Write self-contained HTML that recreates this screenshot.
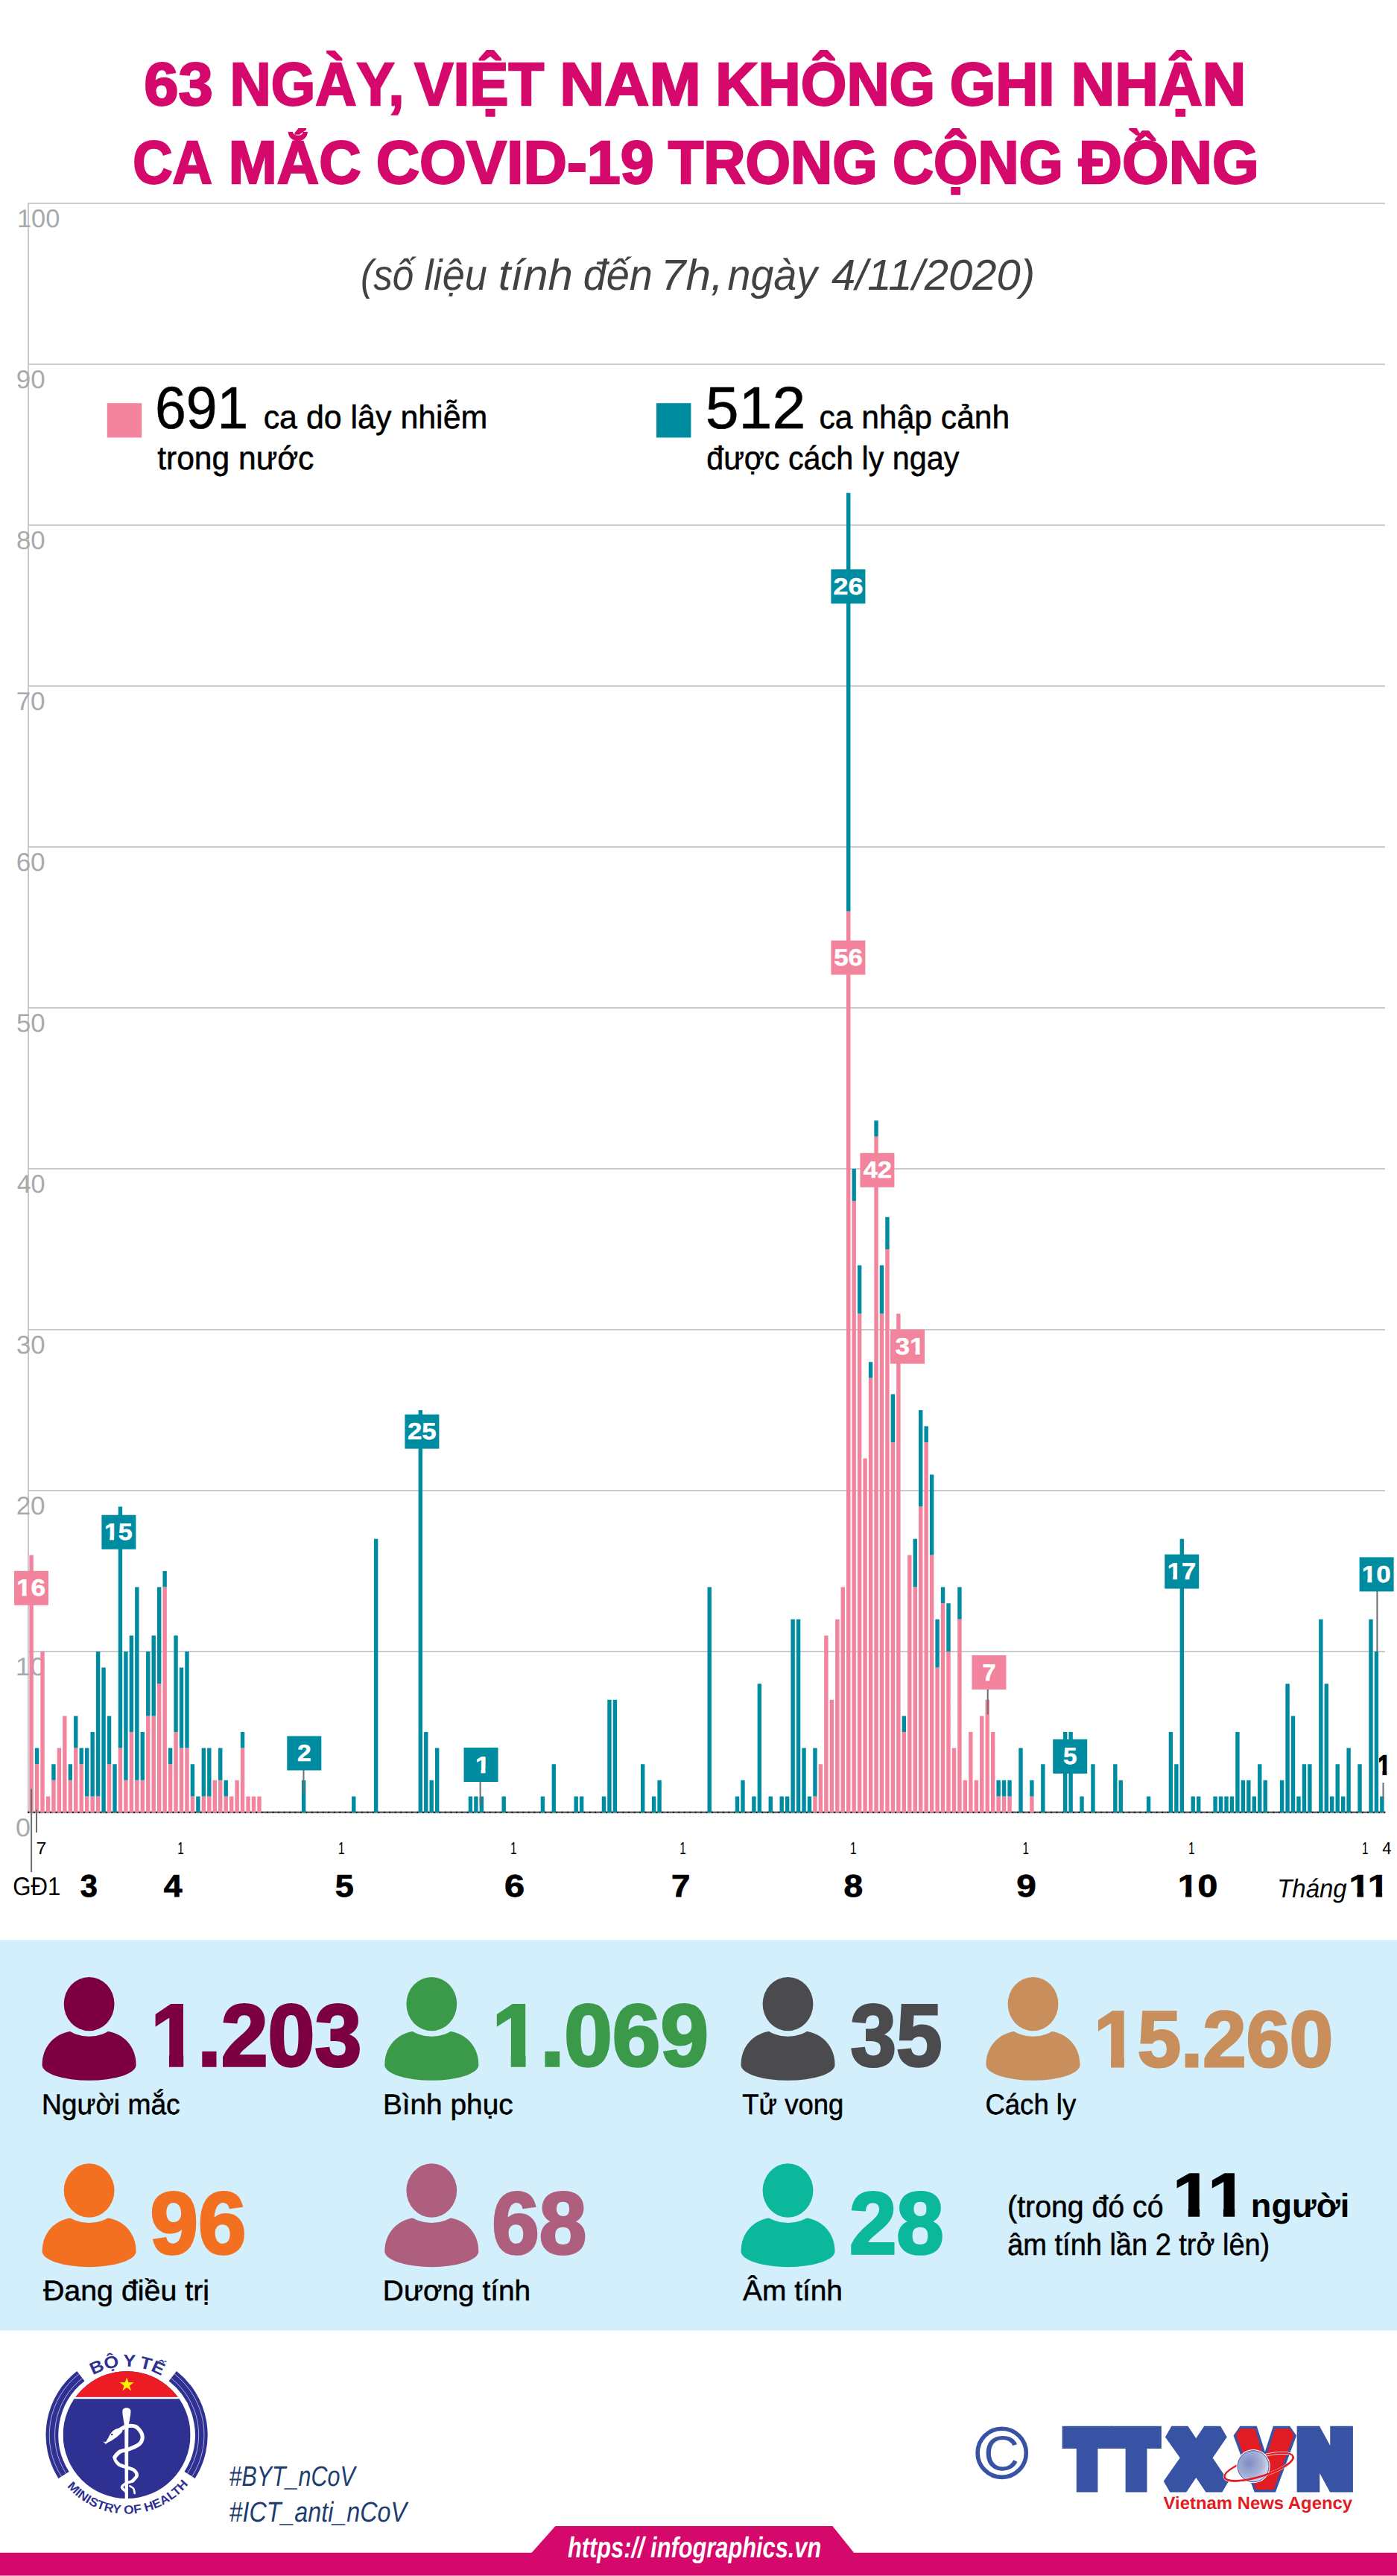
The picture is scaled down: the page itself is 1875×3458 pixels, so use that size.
<!DOCTYPE html>
<html lang="vi"><head><meta charset="utf-8"><title>63 ngày, Việt Nam không ghi nhận ca mắc COVID-19 trong cộng đồng</title>
<style>
html,body{margin:0;padding:0;background:#fff}
body{width:1875px;height:3458px;overflow:hidden}
svg{display:block;font-family:"Liberation Sans",sans-serif;text-rendering:geometricPrecision}
</style></head><body>
<svg width="1875" height="3458" viewBox="0 0 1875 3458">
<rect x="38.0" y="2216.10" width="1821.0" height="1.8" fill="#c4c5c8"/>
<rect x="38.0" y="2000.10" width="1821.0" height="1.8" fill="#c4c5c8"/>
<rect x="38.0" y="1784.10" width="1821.0" height="1.8" fill="#c4c5c8"/>
<rect x="38.0" y="1568.10" width="1821.0" height="1.8" fill="#c4c5c8"/>
<rect x="38.0" y="1352.10" width="1821.0" height="1.8" fill="#c4c5c8"/>
<rect x="38.0" y="1136.10" width="1821.0" height="1.8" fill="#c4c5c8"/>
<rect x="38.0" y="920.10" width="1821.0" height="1.8" fill="#c4c5c8"/>
<rect x="38.0" y="704.10" width="1821.0" height="1.8" fill="#c4c5c8"/>
<rect x="38.0" y="488.10" width="1821.0" height="1.8" fill="#c4c5c8"/>
<rect x="38.0" y="272.10" width="1821.0" height="1.8" fill="#c4c5c8"/>
<rect x="37.1" y="272.10" width="1.8" height="2160.90" fill="#c4c5c8"/>
<text transform="translate(21.06,2465.00) scale(1.0502,1)" font-size="34.3" fill="#a7a9ac">0</text>
<text transform="translate(20.71,2249.00) scale(1.0463,1)" font-size="34.3" fill="#a7a9ac">10</text>
<text transform="translate(21.65,2033.00) scale(1.0208,1)" font-size="34.3" fill="#a7a9ac">20</text>
<text transform="translate(22.10,1817.00) scale(1.0084,1)" font-size="34.3" fill="#a7a9ac">30</text>
<text transform="translate(22.63,1601.00) scale(0.9940,1)" font-size="34.3" fill="#a7a9ac">40</text>
<text transform="translate(22.01,1385.00) scale(1.0109,1)" font-size="34.3" fill="#a7a9ac">50</text>
<text transform="translate(21.65,1169.00) scale(1.0208,1)" font-size="34.3" fill="#a7a9ac">60</text>
<text transform="translate(21.65,953.00) scale(1.0208,1)" font-size="34.3" fill="#a7a9ac">70</text>
<text transform="translate(21.92,737.00) scale(1.0133,1)" font-size="34.3" fill="#a7a9ac">80</text>
<text transform="translate(21.74,521.00) scale(1.0183,1)" font-size="34.3" fill="#a7a9ac">90</text>
<text transform="translate(22.92,305.00) scale(1.0031,1)" font-size="34.3" fill="#a7a9ac">100</text>
<rect x="37.0" y="2432.9" width="1822.0" height="1.3" fill="#8f9092"/>
<rect x="37.0" y="2431.8" width="1822.0" height="1.15" fill="#1a1718"/>
<path d="M38.37 2431.8v2.3M45.83 2431.8v2.3M53.29 2431.8v2.3M60.75 2431.8v2.3M68.21 2431.8v2.3M75.67 2431.8v2.3M83.13 2431.8v2.3M90.59 2431.8v2.3M98.05 2431.8v2.3M105.51 2431.8v2.3M112.97 2431.8v2.3M120.43 2431.8v2.3M127.89 2431.8v2.3M135.35 2431.8v2.3M142.81 2431.8v2.3M150.27 2431.8v2.3M157.73 2431.8v2.3M165.19 2431.8v2.3M172.65 2431.8v2.3M180.11 2431.8v2.3M187.57 2431.8v2.3M195.03 2431.8v2.3M202.49 2431.8v2.3M209.95 2431.8v2.3M217.41 2431.8v2.3M224.87 2431.8v2.3M232.33 2431.8v2.3M239.79 2431.8v2.3M247.25 2431.8v2.3M254.71 2431.8v2.3M262.17 2431.8v2.3M269.63 2431.8v2.3M277.09 2431.8v2.3M284.55 2431.8v2.3M292.01 2431.8v2.3M299.47 2431.8v2.3M306.93 2431.8v2.3M314.39 2431.8v2.3M321.85 2431.8v2.3M329.31 2431.8v2.3M336.77 2431.8v2.3M344.23 2431.8v2.3M351.69 2431.8v2.3M359.15 2431.8v2.3M366.61 2431.8v2.3M374.07 2431.8v2.3M381.53 2431.8v2.3M388.99 2431.8v2.3M396.45 2431.8v2.3M403.91 2431.8v2.3M411.37 2431.8v2.3M418.83 2431.8v2.3M426.29 2431.8v2.3M433.75 2431.8v2.3M441.21 2431.8v2.3M448.67 2431.8v2.3M456.13 2431.8v2.3M463.59 2431.8v2.3M471.05 2431.8v2.3M478.51 2431.8v2.3M485.97 2431.8v2.3M493.43 2431.8v2.3M500.89 2431.8v2.3M508.35 2431.8v2.3M515.81 2431.8v2.3M523.27 2431.8v2.3M530.73 2431.8v2.3M538.19 2431.8v2.3M545.65 2431.8v2.3M553.11 2431.8v2.3M560.57 2431.8v2.3M568.03 2431.8v2.3M575.49 2431.8v2.3M582.95 2431.8v2.3M590.41 2431.8v2.3M597.87 2431.8v2.3M605.33 2431.8v2.3M612.79 2431.8v2.3M620.25 2431.8v2.3M627.71 2431.8v2.3M635.17 2431.8v2.3M642.63 2431.8v2.3M650.09 2431.8v2.3M657.55 2431.8v2.3M665.01 2431.8v2.3M672.47 2431.8v2.3M679.93 2431.8v2.3M687.39 2431.8v2.3M694.85 2431.8v2.3M702.31 2431.8v2.3M709.77 2431.8v2.3M717.23 2431.8v2.3M724.69 2431.8v2.3M732.15 2431.8v2.3M739.61 2431.8v2.3M747.07 2431.8v2.3M754.53 2431.8v2.3M761.99 2431.8v2.3M769.45 2431.8v2.3M776.91 2431.8v2.3M784.37 2431.8v2.3M791.83 2431.8v2.3M799.29 2431.8v2.3M806.75 2431.8v2.3M814.21 2431.8v2.3M821.67 2431.8v2.3M829.13 2431.8v2.3M836.59 2431.8v2.3M844.05 2431.8v2.3M851.51 2431.8v2.3M858.97 2431.8v2.3M866.43 2431.8v2.3M873.89 2431.8v2.3M881.35 2431.8v2.3M888.81 2431.8v2.3M896.27 2431.8v2.3M903.73 2431.8v2.3M911.19 2431.8v2.3M918.65 2431.8v2.3M926.11 2431.8v2.3M933.57 2431.8v2.3M941.03 2431.8v2.3M948.49 2431.8v2.3M955.95 2431.8v2.3M963.41 2431.8v2.3M970.87 2431.8v2.3M978.33 2431.8v2.3M985.79 2431.8v2.3M993.25 2431.8v2.3M1000.71 2431.8v2.3M1008.17 2431.8v2.3M1015.63 2431.8v2.3M1023.09 2431.8v2.3M1030.55 2431.8v2.3M1038.01 2431.8v2.3M1045.47 2431.8v2.3M1052.93 2431.8v2.3M1060.39 2431.8v2.3M1067.85 2431.8v2.3M1075.31 2431.8v2.3M1082.77 2431.8v2.3M1090.23 2431.8v2.3M1097.69 2431.8v2.3M1105.15 2431.8v2.3M1112.61 2431.8v2.3M1120.07 2431.8v2.3M1127.53 2431.8v2.3M1134.99 2431.8v2.3M1142.45 2431.8v2.3M1149.91 2431.8v2.3M1157.37 2431.8v2.3M1164.83 2431.8v2.3M1172.29 2431.8v2.3M1179.75 2431.8v2.3M1187.21 2431.8v2.3M1194.67 2431.8v2.3M1202.13 2431.8v2.3M1209.59 2431.8v2.3M1217.05 2431.8v2.3M1224.51 2431.8v2.3M1231.97 2431.8v2.3M1239.43 2431.8v2.3M1246.89 2431.8v2.3M1254.35 2431.8v2.3M1261.81 2431.8v2.3M1269.27 2431.8v2.3M1276.73 2431.8v2.3M1284.19 2431.8v2.3M1291.65 2431.8v2.3M1299.11 2431.8v2.3M1306.57 2431.8v2.3M1314.03 2431.8v2.3M1321.49 2431.8v2.3M1328.95 2431.8v2.3M1336.41 2431.8v2.3M1343.87 2431.8v2.3M1351.33 2431.8v2.3M1358.79 2431.8v2.3M1366.25 2431.8v2.3M1373.71 2431.8v2.3M1381.17 2431.8v2.3M1388.63 2431.8v2.3M1396.09 2431.8v2.3M1403.55 2431.8v2.3M1411.01 2431.8v2.3M1418.47 2431.8v2.3M1425.93 2431.8v2.3M1433.39 2431.8v2.3M1440.85 2431.8v2.3M1448.31 2431.8v2.3M1455.77 2431.8v2.3M1463.23 2431.8v2.3M1470.69 2431.8v2.3M1478.15 2431.8v2.3M1485.61 2431.8v2.3M1493.07 2431.8v2.3M1500.53 2431.8v2.3M1507.99 2431.8v2.3M1515.45 2431.8v2.3M1522.91 2431.8v2.3M1530.37 2431.8v2.3M1537.83 2431.8v2.3M1545.29 2431.8v2.3M1552.75 2431.8v2.3M1560.21 2431.8v2.3M1567.67 2431.8v2.3M1575.13 2431.8v2.3M1582.59 2431.8v2.3M1590.05 2431.8v2.3M1597.51 2431.8v2.3M1604.97 2431.8v2.3M1612.43 2431.8v2.3M1619.89 2431.8v2.3M1627.35 2431.8v2.3M1634.81 2431.8v2.3M1642.27 2431.8v2.3M1649.73 2431.8v2.3M1657.19 2431.8v2.3M1664.65 2431.8v2.3M1672.11 2431.8v2.3M1679.57 2431.8v2.3M1687.03 2431.8v2.3M1694.49 2431.8v2.3M1701.95 2431.8v2.3M1709.41 2431.8v2.3M1716.87 2431.8v2.3M1724.33 2431.8v2.3M1731.79 2431.8v2.3M1739.25 2431.8v2.3M1746.71 2431.8v2.3M1754.17 2431.8v2.3M1761.63 2431.8v2.3M1769.09 2431.8v2.3M1776.55 2431.8v2.3M1784.01 2431.8v2.3M1791.47 2431.8v2.3M1798.93 2431.8v2.3M1806.39 2431.8v2.3M1813.85 2431.8v2.3M1821.31 2431.8v2.3M1828.77 2431.8v2.3M1836.23 2431.8v2.3M1843.69 2431.8v2.3M1851.15 2431.8v2.3M1858.61 2431.8v2.3" stroke="#111" stroke-width="1.5" fill="none"/>
<path d="M39.40 2433.1V2087.4h5.4V2433.1zM46.86 2433.1V2368.2h5.4V2433.1zM54.32 2433.1V2217.0h5.4V2433.1zM61.78 2433.1V2411.4h5.4V2433.1zM69.24 2433.1V2389.8h5.4V2433.1zM76.70 2433.1V2346.6h5.4V2433.1zM84.16 2433.1V2303.4h5.4V2433.1zM91.62 2433.1V2389.8h5.4V2433.1zM99.08 2433.1V2346.6h5.4V2433.1zM106.54 2433.1V2368.2h5.4V2433.1zM114.00 2433.1V2411.4h5.4V2433.1zM121.46 2433.1V2411.4h5.4V2433.1zM128.92 2433.1V2411.4h5.4V2433.1zM143.84 2433.1V2368.2h5.4V2433.1zM158.76 2433.1V2346.6h5.4V2433.1zM166.22 2433.1V2389.8h5.4V2433.1zM173.68 2433.1V2325.0h5.4V2433.1zM181.14 2433.1V2389.8h5.4V2433.1zM188.60 2433.1V2389.8h5.4V2433.1zM196.06 2433.1V2303.4h5.4V2433.1zM203.52 2433.1V2303.4h5.4V2433.1zM210.98 2433.1V2260.2h5.4V2433.1zM218.44 2433.1V2130.6h5.4V2433.1zM225.90 2433.1V2368.2h5.4V2433.1zM233.36 2433.1V2325.0h5.4V2433.1zM240.82 2433.1V2346.6h5.4V2433.1zM248.28 2433.1V2346.6h5.4V2433.1zM255.74 2433.1V2411.4h5.4V2433.1zM270.66 2433.1V2411.4h5.4V2433.1zM278.12 2433.1V2411.4h5.4V2433.1zM285.58 2433.1V2389.8h5.4V2433.1zM293.04 2433.1V2389.8h5.4V2433.1zM300.50 2433.1V2411.4h5.4V2433.1zM307.96 2433.1V2411.4h5.4V2433.1zM315.42 2433.1V2389.8h5.4V2433.1zM322.88 2433.1V2346.6h5.4V2433.1zM330.34 2433.1V2411.4h5.4V2433.1zM337.80 2433.1V2411.4h5.4V2433.1zM345.26 2433.1V2411.4h5.4V2433.1zM1091.26 2433.1V2411.4h5.4V2433.1zM1098.72 2433.1V2368.2h5.4V2433.1zM1106.18 2433.1V2195.4h5.4V2433.1zM1113.64 2433.1V2281.8h5.4V2433.1zM1121.10 2433.1V2173.8h5.4V2433.1zM1128.56 2433.1V2130.6h5.4V2433.1zM1136.02 2433.1V1223.4h5.4V2433.1zM1143.48 2433.1V1612.2h5.4V2433.1zM1150.94 2433.1V1763.4h5.4V2433.1zM1158.40 2433.1V1957.8h5.4V2433.1zM1165.86 2433.1V1849.8h5.4V2433.1zM1173.32 2433.1V1525.8h5.4V2433.1zM1180.78 2433.1V1763.4h5.4V2433.1zM1188.24 2433.1V1677.0h5.4V2433.1zM1195.70 2433.1V1936.2h5.4V2433.1zM1203.16 2433.1V1763.4h5.4V2433.1zM1210.62 2433.1V2325.0h5.4V2433.1zM1218.08 2433.1V2087.4h5.4V2433.1zM1225.54 2433.1V2130.6h5.4V2433.1zM1233.00 2433.1V2022.6h5.4V2433.1zM1240.46 2433.1V1936.2h5.4V2433.1zM1247.92 2433.1V2087.4h5.4V2433.1zM1255.38 2433.1V2238.6h5.4V2433.1zM1262.84 2433.1V2152.2h5.4V2433.1zM1270.30 2433.1V2217.0h5.4V2433.1zM1277.76 2433.1V2346.6h5.4V2433.1zM1285.22 2433.1V2173.8h5.4V2433.1zM1292.68 2433.1V2389.8h5.4V2433.1zM1300.14 2433.1V2325.0h5.4V2433.1zM1307.60 2433.1V2389.8h5.4V2433.1zM1315.06 2433.1V2303.4h5.4V2433.1zM1322.52 2433.1V2281.8h5.4V2433.1zM1329.98 2433.1V2325.0h5.4V2433.1zM1337.44 2433.1V2411.4h5.4V2433.1zM1344.90 2433.1V2411.4h5.4V2433.1zM1352.36 2433.1V2411.4h5.4V2433.1zM1382.20 2433.1V2411.4h5.4V2433.1z" fill="#f2849d"/>
<path d="M46.86 2368.2V2346.6h5.4V2368.2zM69.24 2389.8V2368.2h5.4V2389.8zM91.62 2389.8V2368.2h5.4V2389.8zM99.08 2346.6V2303.4h5.4V2346.6zM106.54 2368.2V2346.6h5.4V2368.2zM114.00 2411.4V2346.6h5.4V2411.4zM121.46 2411.4V2325.0h5.4V2411.4zM128.92 2411.4V2217.0h5.4V2411.4zM136.38 2433.1V2238.6h5.4V2433.1zM143.84 2368.2V2303.4h5.4V2368.2zM151.30 2433.1V2368.2h5.4V2433.1zM158.76 2346.6V2022.6h5.4V2346.6zM166.22 2389.8V2217.0h5.4V2389.8zM173.68 2325.0V2195.4h5.4V2325.0zM181.14 2389.8V2130.6h5.4V2389.8zM188.60 2389.8V2325.0h5.4V2389.8zM196.06 2303.4V2217.0h5.4V2303.4zM203.52 2303.4V2195.4h5.4V2303.4zM210.98 2260.2V2130.6h5.4V2260.2zM218.44 2130.6V2109.0h5.4V2130.6zM225.90 2368.2V2346.6h5.4V2368.2zM233.36 2325.0V2195.4h5.4V2325.0zM240.82 2346.6V2238.6h5.4V2346.6zM248.28 2346.6V2217.0h5.4V2346.6zM255.74 2411.4V2368.2h5.4V2411.4zM263.20 2433.1V2411.4h5.4V2433.1zM270.66 2411.4V2346.6h5.4V2411.4zM278.12 2411.4V2346.6h5.4V2411.4zM293.04 2389.8V2346.6h5.4V2389.8zM300.50 2411.4V2389.8h5.4V2411.4zM322.88 2346.6V2325.0h5.4V2346.6zM404.94 2433.1V2389.8h5.4V2433.1zM472.08 2433.1V2411.4h5.4V2433.1zM501.92 2433.1V2065.8h5.4V2433.1zM561.60 2433.1V1893.0h5.4V2433.1zM569.06 2433.1V2325.0h5.4V2433.1zM576.52 2433.1V2389.8h5.4V2433.1zM583.98 2433.1V2346.6h5.4V2433.1zM628.74 2433.1V2411.4h5.4V2433.1zM636.20 2433.1V2411.4h5.4V2433.1zM643.66 2433.1V2411.4h5.4V2433.1zM673.50 2433.1V2411.4h5.4V2433.1zM725.72 2433.1V2411.4h5.4V2433.1zM740.64 2433.1V2368.2h5.4V2433.1zM770.48 2433.1V2411.4h5.4V2433.1zM777.94 2433.1V2411.4h5.4V2433.1zM807.78 2433.1V2411.4h5.4V2433.1zM815.24 2433.1V2281.8h5.4V2433.1zM822.70 2433.1V2281.8h5.4V2433.1zM860.00 2433.1V2368.2h5.4V2433.1zM874.92 2433.1V2411.4h5.4V2433.1zM882.38 2433.1V2389.8h5.4V2433.1zM949.52 2433.1V2130.6h5.4V2433.1zM986.82 2433.1V2411.4h5.4V2433.1zM994.28 2433.1V2389.8h5.4V2433.1zM1009.20 2433.1V2411.4h5.4V2433.1zM1016.66 2433.1V2260.2h5.4V2433.1zM1031.58 2433.1V2411.4h5.4V2433.1zM1046.50 2433.1V2411.4h5.4V2433.1zM1053.96 2433.1V2411.4h5.4V2433.1zM1061.42 2433.1V2173.8h5.4V2433.1zM1068.88 2433.1V2173.8h5.4V2433.1zM1076.34 2433.1V2346.6h5.4V2433.1zM1083.80 2433.1V2411.4h5.4V2433.1zM1091.26 2411.4V2346.6h5.4V2411.4zM1136.02 1223.4V661.8h5.4V1223.4zM1143.48 1612.2V1569.0h5.4V1612.2zM1150.94 1763.4V1698.6h5.4V1763.4zM1165.86 1849.8V1828.2h5.4V1849.8zM1173.32 1525.8V1504.2h5.4V1525.8zM1180.78 1763.4V1698.6h5.4V1763.4zM1188.24 1677.0V1633.8h5.4V1677.0zM1195.70 1936.2V1871.4h5.4V1936.2zM1210.62 2325.0V2303.4h5.4V2325.0zM1225.54 2130.6V2065.8h5.4V2130.6zM1233.00 2022.6V1893.0h5.4V2022.6zM1240.46 1936.2V1914.6h5.4V1936.2zM1247.92 2087.4V1979.4h5.4V2087.4zM1255.38 2238.6V2173.8h5.4V2238.6zM1262.84 2152.2V2130.6h5.4V2152.2zM1270.30 2217.0V2152.2h5.4V2217.0zM1285.22 2173.8V2130.6h5.4V2173.8zM1337.44 2411.4V2389.8h5.4V2411.4zM1344.90 2411.4V2389.8h5.4V2411.4zM1352.36 2411.4V2389.8h5.4V2411.4zM1367.28 2433.1V2346.6h5.4V2433.1zM1382.20 2411.4V2389.8h5.4V2411.4zM1397.12 2433.1V2368.2h5.4V2433.1zM1426.96 2433.1V2325.0h5.4V2433.1zM1434.42 2433.1V2325.0h5.4V2433.1zM1449.34 2433.1V2411.4h5.4V2433.1zM1464.26 2433.1V2368.2h5.4V2433.1zM1494.10 2433.1V2368.2h5.4V2433.1zM1501.56 2433.1V2389.8h5.4V2433.1zM1538.86 2433.1V2411.4h5.4V2433.1zM1568.70 2433.1V2325.0h5.4V2433.1zM1576.16 2433.1V2368.2h5.4V2433.1zM1583.62 2433.1V2065.8h5.4V2433.1zM1598.54 2433.1V2411.4h5.4V2433.1zM1606.00 2433.1V2411.4h5.4V2433.1zM1628.38 2433.1V2411.4h5.4V2433.1zM1635.84 2433.1V2411.4h5.4V2433.1zM1643.30 2433.1V2411.4h5.4V2433.1zM1650.76 2433.1V2411.4h5.4V2433.1zM1658.22 2433.1V2325.0h5.4V2433.1zM1665.68 2433.1V2389.8h5.4V2433.1zM1673.14 2433.1V2389.8h5.4V2433.1zM1680.60 2433.1V2411.4h5.4V2433.1zM1688.06 2433.1V2368.2h5.4V2433.1zM1695.52 2433.1V2389.8h5.4V2433.1zM1717.90 2433.1V2389.8h5.4V2433.1zM1725.36 2433.1V2260.2h5.4V2433.1zM1732.82 2433.1V2303.4h5.4V2433.1zM1740.28 2433.1V2411.4h5.4V2433.1zM1747.74 2433.1V2368.2h5.4V2433.1zM1755.20 2433.1V2368.2h5.4V2433.1zM1770.12 2433.1V2173.8h5.4V2433.1zM1777.58 2433.1V2260.2h5.4V2433.1zM1785.04 2433.1V2411.4h5.4V2433.1zM1792.50 2433.1V2368.2h5.4V2433.1zM1799.96 2433.1V2411.4h5.4V2433.1zM1807.42 2433.1V2346.6h5.4V2433.1zM1822.34 2433.1V2368.2h5.4V2433.1zM1837.26 2433.1V2173.8h5.4V2433.1zM1844.72 2433.1V2217.0h5.4V2433.1zM1852.18 2433.1V2411.4h5.4V2433.1z" fill="#008ca0"/>
<rect x="41.10" y="2401.50" width="2.0" height="111.60" fill="#6d6e71"/>
<rect x="48.00" y="2429.40" width="2.0" height="30.50" fill="#6d6e71"/>
<rect x="406.50" y="2376.00" width="2.0" height="30.60" fill="#6d6e71"/>
<rect x="643.60" y="2391.00" width="2.0" height="31.00" fill="#6d6e71"/>
<rect x="1324.70" y="2267.00" width="2.0" height="34.50" fill="#6d6e71"/>
<rect x="1847.40" y="2135.00" width="2.0" height="82.00" fill="#6d6e71"/>
<rect x="1855.50" y="2393.00" width="2.0" height="22.20" fill="#6d6e71"/>
<text transform="translate(1849.71,2382.10) scale(0.7745,1)" font-size="37" font-weight="bold" stroke="#000" stroke-width="1.8" stroke-linejoin="miter" fill="#000">1</text>
<rect x="1850.19" y="2375.63" width="5.27" height="9.27" fill="#fff"/>
<rect x="1861.26" y="2375.63" width="4.91" height="9.27" fill="#fff"/>
<rect x="19.00" y="2108.80" width="46" height="46" fill="#f2849d"/>
<text transform="translate(21.92,2142.35) scale(1.1206,1)" font-size="31.5" font-weight="bold" stroke="#fff" stroke-width="0.5" stroke-linejoin="miter" fill="#fff">16</text>
<rect x="22.97" y="2137.09" width="6.58" height="7.41" fill="#f2849d"/>
<rect x="35.62" y="2137.09" width="6.13" height="7.41" fill="#f2849d"/>
<rect x="136.40" y="2033.70" width="46" height="46" fill="#008ca0"/>
<text transform="translate(139.89,2067.25) scale(1.0818,1)" font-size="31.5" font-weight="bold" stroke="#fff" stroke-width="0.5" stroke-linejoin="miter" fill="#fff">15</text>
<rect x="140.90" y="2061.99" width="6.35" height="7.41" fill="#008ca0"/>
<rect x="153.11" y="2061.99" width="5.91" height="7.41" fill="#008ca0"/>
<rect x="385.30" y="2330.50" width="46" height="46" fill="#008ca0"/>
<text transform="translate(398.99,2364.05) scale(1.0701,1)" font-size="31.5" font-weight="bold" stroke="#fff" stroke-width="0.5" stroke-linejoin="miter" fill="#fff">2</text>
<rect x="543.40" y="1898.70" width="46" height="46" fill="#008ca0"/>
<text transform="translate(546.96,1932.25) scale(1.1046,1)" font-size="31.5" font-weight="bold" stroke="#fff" stroke-width="0.5" stroke-linejoin="miter" fill="#fff">25</text>
<rect x="622.50" y="2346.00" width="46" height="46" fill="#008ca0"/>
<text transform="translate(637.88,2379.55) scale(1.1198,1)" font-size="31.5" font-weight="bold" stroke="#fff" stroke-width="0.5" stroke-linejoin="miter" fill="#fff">1</text>
<rect x="638.92" y="2374.29" width="6.57" height="7.41" fill="#008ca0"/>
<rect x="651.56" y="2374.29" width="6.12" height="7.41" fill="#008ca0"/>
<rect x="1115.40" y="764.30" width="46" height="46" fill="#008ca0"/>
<text transform="translate(1118.53,797.85) scale(1.1365,1)" font-size="31.5" font-weight="bold" stroke="#fff" stroke-width="0.5" stroke-linejoin="miter" fill="#fff">26</text>
<rect x="1115.40" y="1262.50" width="46" height="46" fill="#f2849d"/>
<text transform="translate(1119.18,1296.05) scale(1.1042,1)" font-size="31.5" font-weight="bold" stroke="#fff" stroke-width="0.5" stroke-linejoin="miter" fill="#fff">56</text>
<rect x="1154.40" y="1547.80" width="46" height="46" fill="#f2849d"/>
<text transform="translate(1158.66,1581.35) scale(1.0943,1)" font-size="31.5" font-weight="bold" stroke="#fff" stroke-width="0.5" stroke-linejoin="miter" fill="#fff">42</text>
<rect x="1195.00" y="1784.70" width="46" height="46" fill="#f2849d"/>
<text transform="translate(1201.39,1818.25) scale(1.1133,1)" font-size="31.5" font-weight="bold" stroke="#fff" stroke-width="0.5" stroke-linejoin="miter" fill="#fff">31</text>
<rect x="1221.93" y="1812.99" width="6.53" height="7.41" fill="#f2849d"/>
<rect x="1234.50" y="1812.99" width="6.09" height="7.41" fill="#f2849d"/>
<rect x="1304.40" y="2222.00" width="46" height="46" fill="#f2849d"/>
<text transform="translate(1318.38,2255.55) scale(1.0323,1)" font-size="31.5" font-weight="bold" stroke="#fff" stroke-width="0.5" stroke-linejoin="miter" fill="#fff">7</text>
<rect x="1413.20" y="2334.80" width="46" height="46" fill="#008ca0"/>
<text transform="translate(1426.92,2368.35) scale(1.0574,1)" font-size="31.5" font-weight="bold" stroke="#fff" stroke-width="0.5" stroke-linejoin="miter" fill="#fff">5</text>
<rect x="1563.20" y="2086.60" width="46" height="46" fill="#008ca0"/>
<text transform="translate(1566.83,2120.15) scale(1.0884,1)" font-size="31.5" font-weight="bold" stroke="#fff" stroke-width="0.5" stroke-linejoin="miter" fill="#fff">17</text>
<rect x="1567.85" y="2114.89" width="6.39" height="7.41" fill="#008ca0"/>
<rect x="1580.13" y="2114.89" width="5.95" height="7.41" fill="#008ca0"/>
<rect x="1824.60" y="2090.40" width="46" height="46" fill="#008ca0"/>
<text transform="translate(1827.79,2123.95) scale(1.1106,1)" font-size="31.5" font-weight="bold" stroke="#fff" stroke-width="0.5" stroke-linejoin="miter" fill="#fff">10</text>
<rect x="1828.83" y="2118.69" width="6.52" height="7.41" fill="#008ca0"/>
<rect x="1841.37" y="2118.69" width="6.07" height="7.41" fill="#008ca0"/>
<text transform="translate(48.55,2488.50) scale(1.0707,1)" font-size="23.4" fill="#000">7</text>
<text transform="translate(238.36,2488.50) scale(0.6521,1)" font-size="23.4" fill="#000">1</text>
<text transform="translate(454.06,2488.50) scale(0.6521,1)" font-size="23.4" fill="#000">1</text>
<text transform="translate(684.96,2488.50) scale(0.6521,1)" font-size="23.4" fill="#000">1</text>
<text transform="translate(912.26,2488.50) scale(0.6521,1)" font-size="23.4" fill="#000">1</text>
<text transform="translate(1141.06,2488.50) scale(0.6521,1)" font-size="23.4" fill="#000">1</text>
<text transform="translate(1372.56,2488.50) scale(0.6521,1)" font-size="23.4" fill="#000">1</text>
<text transform="translate(1595.06,2488.50) scale(0.6521,1)" font-size="23.4" fill="#000">1</text>
<text transform="translate(1827.96,2488.50) scale(0.6521,1)" font-size="23.4" fill="#000">1</text>
<text transform="translate(1855.21,2488.50) scale(0.9393,1)" font-size="23.4" fill="#000">4</text>
<text transform="translate(107.86,2545.80) scale(0.9910,1)" font-size="42" font-weight="bold" stroke="#000" stroke-width="0.8" stroke-linejoin="miter" fill="#000">3</text>
<text transform="translate(219.86,2545.80) scale(1.0615,1)" font-size="42" font-weight="bold" stroke="#000" stroke-width="0.8" stroke-linejoin="miter" fill="#000">4</text>
<text transform="translate(449.78,2545.80) scale(1.0694,1)" font-size="42" font-weight="bold" stroke="#000" stroke-width="0.8" stroke-linejoin="miter" fill="#000">5</text>
<text transform="translate(677.04,2545.80) scale(1.1583,1)" font-size="42" font-weight="bold" stroke="#000" stroke-width="0.8" stroke-linejoin="miter" fill="#000">6</text>
<text transform="translate(901.10,2545.80) scale(1.0857,1)" font-size="42" font-weight="bold" stroke="#000" stroke-width="0.8" stroke-linejoin="miter" fill="#000">7</text>
<text transform="translate(1132.44,2545.80) scale(1.0984,1)" font-size="42" font-weight="bold" stroke="#000" stroke-width="0.8" stroke-linejoin="miter" fill="#000">8</text>
<text transform="translate(1364.29,2545.80) scale(1.1337,1)" font-size="42" font-weight="bold" stroke="#000" stroke-width="0.8" stroke-linejoin="miter" fill="#000">9</text>
<text transform="translate(1580.65,2545.80) scale(1.1458,1)" font-size="42" font-weight="bold" stroke="#000" stroke-width="0.8" stroke-linejoin="miter" fill="#000">10</text>
<rect x="1582.31" y="2539.32" width="8.77" height="8.78" fill="#fff"/>
<rect x="1599.29" y="2539.32" width="8.16" height="8.78" fill="#fff"/>
<text transform="translate(1810.54,2545.80) scale(1.1957,1)" font-size="42" font-weight="bold" stroke="#000" stroke-width="0.8" stroke-linejoin="miter" fill="#000">11</text>
<rect x="1812.27" y="2539.32" width="9.16" height="8.78" fill="#fff"/>
<rect x="1829.99" y="2539.32" width="8.52" height="8.78" fill="#fff"/>
<rect x="1837.43" y="2539.32" width="9.16" height="8.78" fill="#fff"/>
<rect x="1855.15" y="2539.32" width="8.52" height="8.78" fill="#fff"/>
<text transform="translate(17.34,2544.30) scale(0.9033,1)" font-size="34.5" fill="#000">GĐ1</text>
<text transform="translate(1714.23,2547.40) scale(0.9414,1)" font-size="35" font-style="italic" fill="#000">Tháng</text>
<text transform="translate(193.31,140.90) scale(1.0236,1)" font-size="81.3" font-weight="bold" stroke="#d4096b" stroke-width="2.4" stroke-linejoin="miter" fill="#d4096b">63</text>
<text transform="translate(308.56,140.90) scale(0.9412,1)" font-size="81.3" font-weight="bold" stroke="#d4096b" stroke-width="2.4" stroke-linejoin="miter" fill="#d4096b">NGÀY,</text>
<text transform="translate(556.37,140.90) scale(0.9617,1)" font-size="81.3" font-weight="bold" stroke="#d4096b" stroke-width="2.4" stroke-linejoin="miter" fill="#d4096b">VIỆT</text>
<text transform="translate(751.31,140.90) scale(1.0227,1)" font-size="81.3" font-weight="bold" stroke="#d4096b" stroke-width="2.4" stroke-linejoin="miter" fill="#d4096b">NAM</text>
<text transform="translate(960.32,140.90) scale(0.9746,1)" font-size="81.3" font-weight="bold" stroke="#d4096b" stroke-width="2.4" stroke-linejoin="miter" fill="#d4096b">KHÔNG</text>
<text transform="translate(1274.70,140.90) scale(0.9742,1)" font-size="81.3" font-weight="bold" stroke="#d4096b" stroke-width="2.4" stroke-linejoin="miter" fill="#d4096b">GHI</text>
<text transform="translate(1437.61,140.90) scale(1.0001,1)" font-size="81.3" font-weight="bold" stroke="#d4096b" stroke-width="2.4" stroke-linejoin="miter" fill="#d4096b">NHẬN</text>
<text transform="translate(178.24,246.40) scale(0.9083,1)" font-size="81.3" font-weight="bold" stroke="#d4096b" stroke-width="2.4" stroke-linejoin="miter" fill="#d4096b">CA</text>
<text transform="translate(306.78,246.40) scale(0.9603,1)" font-size="81.3" font-weight="bold" stroke="#d4096b" stroke-width="2.4" stroke-linejoin="miter" fill="#d4096b">MẮC</text>
<text transform="translate(504.66,246.40) scale(0.9952,1)" font-size="81.3" font-weight="bold" stroke="#d4096b" stroke-width="2.4" stroke-linejoin="miter" fill="#d4096b">COVID-19</text>
<text transform="translate(896.77,246.40) scale(0.9576,1)" font-size="81.3" font-weight="bold" stroke="#d4096b" stroke-width="2.4" stroke-linejoin="miter" fill="#d4096b">TRONG</text>
<text transform="translate(1197.97,246.40) scale(0.9388,1)" font-size="81.3" font-weight="bold" stroke="#d4096b" stroke-width="2.4" stroke-linejoin="miter" fill="#d4096b">CỘNG</text>
<text transform="translate(1447.79,246.40) scale(0.9925,1)" font-size="81.3" font-weight="bold" stroke="#d4096b" stroke-width="2.4" stroke-linejoin="miter" fill="#d4096b">ĐỒNG</text>
<text transform="translate(484.07,389.00) scale(0.8837,1)" font-size="58" font-style="italic" fill="#424244">(số</text>
<text transform="translate(569.59,389.00) scale(0.9335,1)" font-size="58" font-style="italic" fill="#424244">liệu</text>
<text transform="translate(668.80,389.00) scale(1.0361,1)" font-size="58" font-style="italic" fill="#424244">tính</text>
<text transform="translate(782.68,389.00) scale(0.9640,1)" font-size="58" font-style="italic" fill="#424244">đến</text>
<text transform="translate(886.81,389.00) scale(1.0411,1)" font-size="58" font-style="italic" fill="#424244">7h,</text>
<text transform="translate(976.53,389.00) scale(0.9569,1)" font-size="58" font-style="italic" fill="#424244">ngày</text>
<text transform="translate(1115.97,389.00) scale(0.9999,1)" font-size="58" font-style="italic" fill="#424244">4/11/2020)</text>
<rect x="143.8" y="541.2" width="46.4" height="46.2" fill="#f2849d"/>
<rect x="881" y="541.2" width="46.4" height="46.2" fill="#008ca0"/>
<text transform="translate(208.00,574.73) scale(0.9394,1)" font-size="80" stroke="#000" stroke-width="0.55" stroke-linejoin="miter" fill="#000">691</text>
<text transform="translate(353.64,574.73) scale(0.9756,1)" font-size="44" stroke="#000" stroke-width="0.55" stroke-linejoin="miter" fill="#000">ca do lây nhiễm</text>
<text transform="translate(211.13,630.02) scale(0.9674,1)" font-size="44" stroke="#000" stroke-width="0.55" stroke-linejoin="miter" fill="#000">trong nước</text>
<text transform="translate(946.75,574.73) scale(1.0083,1)" font-size="80" stroke="#000" stroke-width="0.55" stroke-linejoin="miter" fill="#000">512</text>
<text transform="translate(1099.46,574.73) scale(0.9679,1)" font-size="44" stroke="#000" stroke-width="0.55" stroke-linejoin="miter" fill="#000">ca nhập cảnh</text>
<text transform="translate(948.20,630.02) scale(0.9380,1)" font-size="44" stroke="#000" stroke-width="0.55" stroke-linejoin="miter" fill="#000">được cách ly ngay</text>
<rect x="0" y="2604.2" width="1875" height="524.3" fill="#d4effc"/>
<path d="M56.6 2771.9C56.6 2745.0 75.6 2730.0 93.6 2727.0L145.6 2727.0C163.6 2730.0 182.6 2745.0 182.6 2771.9A63 20.9 0 0 1 56.6 2771.9z" fill="#7c0040"/>
<ellipse cx="119.6" cy="2690.1" rx="47.5" ry="43.6" fill="#d4effc"/>
<ellipse cx="119.6" cy="2690.1" rx="33.9" ry="36.2" fill="#7c0040"/>
<path d="M516.3 2771.9C516.3 2745.0 535.3 2730.0 553.3 2727.0L605.3 2727.0C623.3 2730.0 642.3 2745.0 642.3 2771.9A63 20.9 0 0 1 516.3 2771.9z" fill="#3a9a4a"/>
<ellipse cx="579.3" cy="2690.1" rx="47.5" ry="43.6" fill="#d4effc"/>
<ellipse cx="579.3" cy="2690.1" rx="33.9" ry="36.2" fill="#3a9a4a"/>
<path d="M994.5 2771.9C994.5 2745.0 1013.5 2730.0 1031.5 2727.0L1083.5 2727.0C1101.5 2730.0 1120.5 2745.0 1120.5 2771.9A63 20.9 0 0 1 994.5 2771.9z" fill="#4b4b4d"/>
<ellipse cx="1057.5" cy="2690.1" rx="47.5" ry="43.6" fill="#d4effc"/>
<ellipse cx="1057.5" cy="2690.1" rx="33.9" ry="36.2" fill="#4b4b4d"/>
<path d="M1323.5 2771.9C1323.5 2745.0 1342.5 2730.0 1360.5 2727.0L1412.5 2727.0C1430.5 2730.0 1449.5 2745.0 1449.5 2771.9A63 20.9 0 0 1 1323.5 2771.9z" fill="#c88f5c"/>
<ellipse cx="1386.5" cy="2690.1" rx="47.5" ry="43.6" fill="#d4effc"/>
<ellipse cx="1386.5" cy="2690.1" rx="33.9" ry="36.2" fill="#c88f5c"/>
<path d="M56.6 3022.3C56.6 2995.4 75.6 2980.4 93.6 2977.4L145.6 2977.4C163.6 2980.4 182.6 2995.4 182.6 3022.3A63 20.9 0 0 1 56.6 3022.3z" fill="#f37021"/>
<ellipse cx="119.6" cy="2940.5" rx="47.5" ry="43.6" fill="#d4effc"/>
<ellipse cx="119.6" cy="2940.5" rx="33.9" ry="36.2" fill="#f37021"/>
<path d="M516.3 3022.3C516.3 2995.4 535.3 2980.4 553.3 2977.4L605.3 2977.4C623.3 2980.4 642.3 2995.4 642.3 3022.3A63 20.9 0 0 1 516.3 3022.3z" fill="#ad5f7d"/>
<ellipse cx="579.3" cy="2940.5" rx="47.5" ry="43.6" fill="#d4effc"/>
<ellipse cx="579.3" cy="2940.5" rx="33.9" ry="36.2" fill="#ad5f7d"/>
<path d="M994.5 3022.3C994.5 2995.4 1013.5 2980.4 1031.5 2977.4L1083.5 2977.4C1101.5 2980.4 1120.5 2995.4 1120.5 3022.3A63 20.9 0 0 1 994.5 3022.3z" fill="#0cb89b"/>
<ellipse cx="1057.5" cy="2940.5" rx="47.5" ry="43.6" fill="#d4effc"/>
<ellipse cx="1057.5" cy="2940.5" rx="33.9" ry="36.2" fill="#0cb89b"/>
<text transform="translate(202.47,2773.30) scale(0.9576,1)" font-size="118" font-weight="bold" stroke="#7c0040" stroke-width="3.4" stroke-linejoin="miter" fill="#7c0040">1.203</text>
<rect x="207.19" y="2757.76" width="19.73" height="19.14" fill="#d4effc"/>
<rect x="246.26" y="2757.76" width="18.30" height="19.14" fill="#d4effc"/>
<text transform="translate(660.62,2773.30) scale(0.9830,1)" font-size="118" font-weight="bold" stroke="#3a9a4a" stroke-width="3.4" stroke-linejoin="miter" fill="#3a9a4a">1.069</text>
<rect x="665.47" y="2757.76" width="20.26" height="19.14" fill="#d4effc"/>
<rect x="705.57" y="2757.76" width="18.78" height="19.14" fill="#d4effc"/>
<text transform="translate(1141.41,2773.30) scale(0.9371,1)" font-size="118" font-weight="bold" stroke="#4b4b4d" stroke-width="3.4" stroke-linejoin="miter" fill="#4b4b4d">35</text>
<text transform="translate(1468.32,2774.10) scale(0.9849,1)" font-size="106.5" font-weight="bold" stroke="#c88f5c" stroke-width="3" stroke-linejoin="miter" fill="#c88f5c">15.260</text>
<rect x="1472.66" y="2759.94" width="18.37" height="17.56" fill="#d4effc"/>
<rect x="1508.97" y="2759.94" width="17.03" height="17.56" fill="#d4effc"/>
<text transform="translate(201.51,3024.80) scale(0.9816,1)" font-size="118" font-weight="bold" stroke="#f37021" stroke-width="3.4" stroke-linejoin="miter" fill="#f37021">96</text>
<text transform="translate(660.26,3024.80) scale(0.9682,1)" font-size="118" font-weight="bold" stroke="#ad5f7d" stroke-width="3.4" stroke-linejoin="miter" fill="#ad5f7d">68</text>
<text transform="translate(1139.95,3024.80) scale(0.9660,1)" font-size="118" font-weight="bold" stroke="#0cb89b" stroke-width="3.4" stroke-linejoin="miter" fill="#0cb89b">28</text>
<text transform="translate(56.00,2837.72) scale(0.9659,1)" font-size="38.5" stroke="#000" stroke-width="0.55" stroke-linejoin="miter" fill="#000">Người mắc</text>
<text transform="translate(513.88,2837.72) scale(1.0079,1)" font-size="38.5" stroke="#000" stroke-width="0.55" stroke-linejoin="miter" fill="#000">Bình phục</text>
<text transform="translate(996.34,2837.72) scale(0.9475,1)" font-size="38.5" stroke="#000" stroke-width="0.55" stroke-linejoin="miter" fill="#000">Tử vong</text>
<text transform="translate(1322.43,2837.72) scale(0.9486,1)" font-size="38.5" stroke="#000" stroke-width="0.55" stroke-linejoin="miter" fill="#000">Cách ly</text>
<text transform="translate(57.89,3087.72) scale(1.0220,1)" font-size="38.5" stroke="#000" stroke-width="0.55" stroke-linejoin="miter" fill="#000">Đang điều trị</text>
<text transform="translate(513.87,3087.72) scale(1.0088,1)" font-size="38.5" stroke="#000" stroke-width="0.55" stroke-linejoin="miter" fill="#000">Dương tính</text>
<text transform="translate(997.08,3087.72) scale(1.0093,1)" font-size="38.5" stroke="#000" stroke-width="0.55" stroke-linejoin="miter" fill="#000">Âm tính</text>
<text transform="translate(1352.11,2975.62) scale(0.9568,1)" font-size="41" stroke="#000" stroke-width="0.55" stroke-linejoin="miter" fill="#000">(trong đó có</text>
<text transform="translate(1574.07,2975.15) scale(1.1327,1)" font-size="83" font-weight="bold" stroke="#000" stroke-width="1.5" stroke-linejoin="miter" fill="#000">11</text>
<rect x="1578.24" y="2964.13" width="16.59" height="13.67" fill="#d4effc"/>
<rect x="1610.11" y="2964.13" width="15.39" height="13.67" fill="#d4effc"/>
<rect x="1625.35" y="2964.13" width="16.59" height="13.67" fill="#d4effc"/>
<rect x="1657.21" y="2964.13" width="15.39" height="13.67" fill="#d4effc"/>
<text transform="translate(1678.87,2975.90) scale(1.0136,1)" font-size="44.5" font-weight="bold" fill="#000">người</text>
<text transform="translate(1352.24,3026.82) scale(0.9261,1)" font-size="41" stroke="#000" stroke-width="0.55" stroke-linejoin="miter" fill="#000">âm tính lần 2 trở lên)</text>
<path d="M0 3426.8H713.6L745.4 3390.9H1117.4L1146.1 3426.8H1875V3457.4H0z" fill="#d4096b"/>
<text transform="translate(761.96,3433.00) scale(0.7892,1)" font-size="39" font-weight="bold" font-style="italic" fill="#fff">https:// infographics.vn</text>
<text transform="translate(307.59,3336.70) scale(0.8006,1)" font-size="38" font-style="italic" fill="#1d3d6f">#BYT_nCoV</text>
<text transform="translate(307.56,3384.50) scale(0.8485,1)" font-size="38" font-style="italic" fill="#1d3d6f">#ICT_anti_nCoV</text>
<defs><clipPath id="mohc"><circle cx="170.1" cy="3268.6" r="85.5"/></clipPath></defs>
<g clip-path="url(#mohc)"><rect x="84.6" y="3183.1" width="171.0" height="171.0" fill="#2e3192"/><rect x="84.6" y="3183.1" width="171.0" height="34.7" fill="#ed1c24"/><rect x="84.6" y="3217.8" width="171.0" height="2.4" fill="#fff"/></g>
<path d="M108.41 3189.64A100.2 100.2 0 0 0 85.59 3322.44" fill="none" stroke="#2e3192" stroke-width="16.8"/>
<path d="M106.13 3186.73A103.9 103.9 0 0 0 82.47 3324.43" fill="none" stroke="#fff" stroke-width="0.6"/>
<path d="M110.63 3192.48A96.6 96.6 0 0 0 88.63 3320.50" fill="none" stroke="#fff" stroke-width="0.6"/>
<path d="M254.61 3322.44A100.2 100.2 0 0 0 231.79 3189.64" fill="none" stroke="#2e3192" stroke-width="16.8"/>
<path d="M257.73 3324.43A103.9 103.9 0 0 0 234.07 3186.73" fill="none" stroke="#fff" stroke-width="0.6"/>
<path d="M251.57 3320.50A96.6 96.6 0 0 0 229.57 3192.48" fill="none" stroke="#fff" stroke-width="0.6"/>
<polygon points="170.20,3191.20 167.91,3198.04 160.69,3198.11 166.49,3202.41 164.32,3209.29 170.20,3205.10 176.08,3209.29 173.91,3202.41 179.71,3198.11 172.49,3198.04" fill="#fff200"/>
<path d="M164.33 3236.78C164.33 3230.82 175.49 3230.82 175.49 3236.78C175.49 3244.22 172.51 3251.67 172.33 3262.84L171.96 3354.03L167.68 3354.03L167.30 3262.84C167.12 3251.67 164.33 3244.22 164.33 3236.78z" fill="#fff"/>
<path d="M160.60 3261.91C162.22 3261.07 166.65 3257.59 170.28 3256.88C173.91 3256.17 178.97 3255.70 182.38 3257.63C185.79 3259.55 189.82 3264.70 190.75 3268.42C191.68 3272.14 190.75 3276.80 187.96 3279.96C185.17 3283.12 178.50 3285.54 174.00 3287.40C169.51 3289.26 164.33 3289.26 160.98 3291.13C157.63 3292.99 155.08 3297.33 153.90 3298.57" fill="none" stroke="#fff" stroke-width="5.2" stroke-linecap="round"/>
<path d="M160.98 3291.13C159.80 3292.37 154.21 3295.78 153.90 3298.57C153.59 3301.36 156.38 3305.58 159.11 3307.88C161.84 3310.17 166.81 3310.98 170.28 3312.34C173.76 3313.71 177.73 3314.24 179.96 3316.07C182.19 3317.90 183.99 3320.97 183.68 3323.32C183.37 3325.68 179.03 3329.06 178.10 3330.21" fill="none" stroke="#fff" stroke-width="4.6" stroke-linecap="round"/>
<path d="M183.68 3323.32C182.75 3324.47 180.64 3328.44 178.10 3330.21C175.55 3331.98 170.84 3332.51 168.42 3333.93C166.00 3335.36 163.64 3337.10 163.58 3338.77C163.52 3340.45 167.30 3343.11 168.05 3343.98" fill="none" stroke="#fff" stroke-width="3.6" stroke-linecap="round"/>
<path d="M174.38 3337.28C175.18 3337.84 178.16 3339.02 179.21 3340.63C180.27 3342.25 180.46 3345.91 180.70 3346.96" fill="none" stroke="#fff" stroke-width="2.6" stroke-linecap="round"/>
<path d="M163.21 3259.49C155.39 3259.11 148.88 3263.21 145.34 3272.51L141.99 3278.10L138.27 3277.73L141.43 3279.96L141.62 3281.45L143.48 3279.59C151.67 3275.86 159.11 3270.28 164.33 3264.33z" fill="#fff"/>
<circle cx="150.18" cy="3268.05" r="1.3" fill="#2e3192"/>
<defs><path id="moht" d="M124.76 3188.78A91.8 91.8 0 0 1 216.55 3189.42" fill="none"/><path id="mohb" d="M89.86 3337.86A106 106 0 0 0 252.71 3335.02" fill="none"/></defs>
<text font-size="22.8" font-weight="bold" word-spacing="-2" fill="#2e3192"><textPath href="#moht" textLength="96.1" lengthAdjust="spacingAndGlyphs">BỘ Y TẾ</textPath></text>
<text font-size="16.2" font-weight="bold" fill="#2e3192"><textPath href="#mohb" textLength="185.7" lengthAdjust="spacingAndGlyphs">MINISTRY OF HEALTH</textPath></text>
<circle cx="1344.7" cy="3292.8" r="32.6" fill="none" stroke="#3953a4" stroke-width="5.6"/>
<text x="1344.2" y="3316.2" font-size="66" text-anchor="middle" fill="#3953a4">C</text>
<text transform="translate(1432.83,3335.70) scale(0.8519,1)" font-size="101.3" font-weight="bold" fill="#3953a4" stroke="#3953a4" stroke-width="19" stroke-linejoin="miter" stroke-miterlimit="1.5">T</text>
<text transform="translate(1498.48,3335.70) scale(0.8582,1)" font-size="101.3" font-weight="bold" fill="#3953a4" stroke="#3953a4" stroke-width="19" stroke-linejoin="miter" stroke-miterlimit="1.5">T</text>
<text transform="translate(1569.35,3335.70) scale(1.0663,1)" font-size="101.3" font-weight="bold" fill="#3953a4" stroke="#3953a4" stroke-width="19" stroke-linejoin="miter" stroke-miterlimit="1.5">X</text>
<text transform="translate(1743.25,3335.70) scale(0.9578,1)" font-size="101.3" font-weight="bold" fill="#3953a4" stroke="#3953a4" stroke-width="19" stroke-linejoin="miter" stroke-miterlimit="1.5">N</text>
<text transform="translate(1663.80,3335.70) scale(1.0071,1)" font-size="101.3" font-weight="bold" fill="#3953a4" stroke="#3953a4" stroke-width="19" stroke-linejoin="miter" stroke-miterlimit="1.5">V</text>
<text transform="translate(1663.80,3335.70) scale(1.0071,1)" font-size="101.3" font-weight="bold" fill="#e21c23" stroke="#e21c23" stroke-width="12" stroke-linejoin="miter" stroke-miterlimit="1.5">V</text>
<defs><radialGradient id="gl" cx="0.35" cy="0.4" r="0.8"><stop offset="0" stop-color="#7f8cc4"/><stop offset="0.55" stop-color="#a9b3d8"/><stop offset="1" stop-color="#f4f6fb"/></radialGradient></defs>
<ellipse cx="1689.6" cy="3311.6" rx="48" ry="13" transform="rotate(-17 1689.6 3311.6)" fill="none" stroke="#fff" stroke-width="3.6"/>
<ellipse cx="1689.6" cy="3311.6" rx="48" ry="13" transform="rotate(-17 1689.6 3311.6)" fill="none" stroke="#e21c23" stroke-width="2.2"/>
<circle cx="1682.1" cy="3310.7" r="22.6" fill="#fff"/>
<circle cx="1682.1" cy="3310.7" r="21" fill="url(#gl)" stroke="#3953a4" stroke-width="1"/>
<ellipse cx="1689.6" cy="3311.6" rx="48" ry="13" pathLength="100" stroke-dasharray="50 50" transform="rotate(-17 1689.6 3311.6)" fill="none" stroke="#e21c23" stroke-width="2.6"/>
<text transform="translate(1561.62,3368.2) scale(1.0162,1)" font-size="23.5" font-weight="bold" fill="#e21c23">Vietnam News Agency</text>
</svg>
</body></html>
